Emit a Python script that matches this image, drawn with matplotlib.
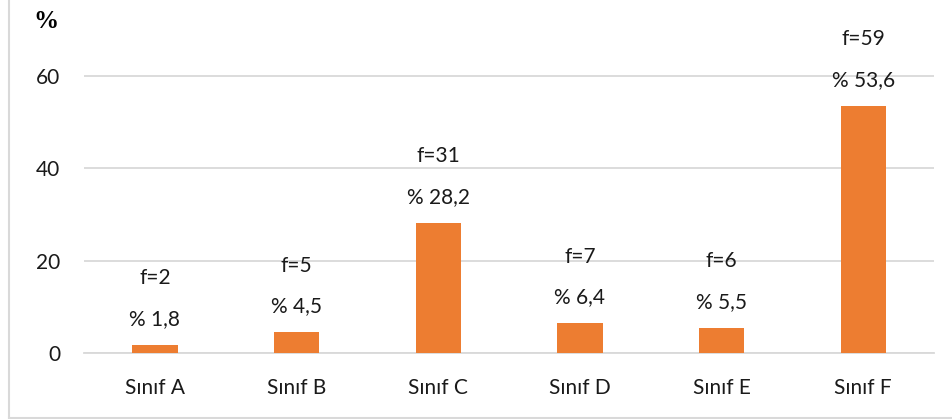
import matplotlib.pyplot as plt
from matplotlib.lines import Line2D

categories = ["Sınıf A", "Sınıf B", "Sınıf C", "Sınıf D", "Sınıf E", "Sınıf F"]
percents = [1.8, 4.5, 28.2, 6.4, 5.5, 53.6]
freqs = [2, 5, 31, 7, 6, 59]
pct_labels = ["% 1,8", "% 4,5", "% 28,2", "% 6,4", "% 5,5", "% 53,6"]

orange = "#ED7D31"
txt = "#1a1a1a"
font = "Lato"
fs = 15

fig = plt.figure(figsize=(9.52, 4.19), dpi=100)
ax = fig.add_axes([84 / 952, 1 - 353 / 419, 850 / 952, 323 / 419])

x = range(len(categories))
ax.bar(x, percents, width=0.32, color=orange, zorder=3)

# two data labels above each bar
for i in x:
    ax.annotate(pct_labels[i], (i, percents[i]), xytext=(0, 18.7), textcoords="offset points",
                ha="center", va="center", fontsize=fs, family=font, color=txt)
    ax.annotate("f=%d" % freqs[i], (i, percents[i]), xytext=(0, 48), textcoords="offset points",
                ha="center", va="center", fontsize=fs, family=font, color=txt)

ax.set_xlim(-0.5, len(categories) - 0.5)
ax.set_ylim(0, 70)
ax.set_yticks([0, 20, 40, 60])
ax.set_xticks(list(x))
ax.set_xticklabels(categories)
ax.grid(axis="y", color="#d9d9d9", linewidth=1.3, zorder=0)
for s in ["top", "right", "left"]:
    ax.spines[s].set_visible(False)
ax.spines["bottom"].set_color("#d9d9d9")
ax.spines["bottom"].set_linewidth(1.3)
ax.tick_params(length=0, labelsize=fs, colors=txt)
ax.tick_params(axis="x", pad=18)
ax.tick_params(axis="y", pad=17)
for lab in ax.get_xticklabels() + ax.get_yticklabels():
    lab.set_family(font)

fig.text(46 / 952, 1 - 21 / 419, "%", family="Liberation Serif", fontweight="bold",
         fontsize=18, ha="center", va="center")

# left and bottom frame lines of the picture
fig.add_artist(Line2D([8.5 / 952, 8.5 / 952], [0.5 / 419, 1], transform=fig.transFigure,
                      color="#d9d9d9", linewidth=1.5))
fig.add_artist(Line2D([8.5 / 952, 1], [0.8 / 419, 0.8 / 419], transform=fig.transFigure,
                      color="#d9d9d9", linewidth=1.5))

fig.savefig("out.png", dpi=100)
